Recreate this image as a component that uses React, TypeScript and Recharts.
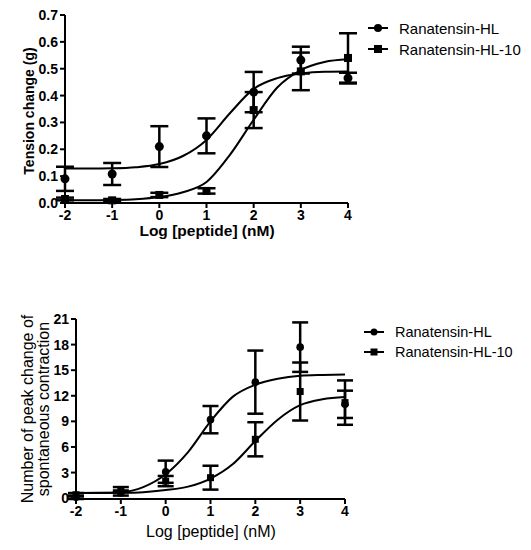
import React from 'react';
import { ComposedChart, Line, Scatter, ErrorBar, XAxis, YAxis } from 'recharts';

// measured points, log dose on x
const doses = [-2, -1, 0, 1, 2, 3, 4];

const tensionHL = [0.09, 0.108, 0.21, 0.25, 0.413, 0.532, 0.465];
const tensionHLErr = [0.045, 0.041, 0.076, 0.065, 0.075, 0.05, 0.02];
const tensionHL10 = [0.015, 0.01, 0.03, 0.045, 0.346, 0.49, 0.54];
const tensionHL10Err = [0.005, 0.005, 0.008, 0.01, 0.067, 0.07, 0.092];

const contractHL = [0.1, 0.6, 3.1, 9.2, 13.6, 17.7, 11.0];
const contractHLErr = [0.2, 0.3, 1.3, 1.6, 3.7, 2.9, 1.6];
const contractHL10 = [0.4, 1.0, 2.0, 2.4, 6.9, 12.5, 11.2];
const contractHL10Err = [0.2, 0.3, 0.6, 1.4, 2.0, 3.4, 2.6];

// fitted curves
const fitX = [-2, -1.5, -1, -0.5, 0, 0.5, 1, 1.5, 2, 2.5, 3, 3.5, 4];
const tensionHLFit = [0.128, 0.128, 0.129, 0.133, 0.145, 0.175, 0.235, 0.335, 0.425, 0.465, 0.482, 0.489, 0.49];
const tensionHL10Fit = [0.01, 0.01, 0.011, 0.014, 0.022, 0.04, 0.078, 0.18, 0.31, 0.43, 0.495, 0.525, 0.535];
const contractHLFit = [0.6, 0.62, 0.7, 1.3, 2.8, 5.4, 9.0, 11.9, 13.3, 14.0, 14.35, 14.45, 14.5];
const contractHL10Fit = [0.6, 0.6, 0.62, 0.7, 0.95, 1.35, 2.3, 4.0, 6.7, 9.2, 10.9, 11.6, 11.85];

const xTicks = [-2, -1, 0, 1, 2, 3, 4];
const tensionTicks = [0, 0.1, 0.2, 0.3, 0.4, 0.5, 0.6, 0.7];
const contractTicks = [0, 3, 6, 9, 12, 15, 18, 21];

const seriesNames = ['Ranatensin-HL', 'Ranatensin-HL-10'];

const FONT = '"Liberation Sans", Arial, sans-serif';

const points = (ys: number[], errs: number[]) => doses.map((x, i) => ({ x, y: ys[i], err: errs[i] }));
const curve = (ys: number[]) => fitX.map((x, i) => ({ x, y: ys[i] }));

const dot = (r: number) => (p: any) => <circle cx={p.cx} cy={p.cy} r={r} fill="#000" />;
const square = (s: number) => (p: any) => <rect x={p.cx - s / 2} y={p.cy - s / 2} width={s} height={s} fill="#000" />;

const makeYTitle = (lines: string[], x: number, cy: number, size: number, weight: string) => () => (
  <text transform={`rotate(-90 ${x} ${cy})`} x={x} y={cy} textAnchor="middle" fontFamily={FONT} fontSize={size} fontWeight={weight} fill="#000">
    {lines.map((l, i) => (
      <tspan key={i} x={x} dy={i === 0 ? 0 : size}>
        {l}
      </tspan>
    ))}
  </text>
);

const makeXTitle = (text: string, cx: number, y: number, size: number, weight: string) => () => (
  <text x={cx} y={y} textAnchor="middle" fontFamily={FONT} fontSize={size} fontWeight={weight} fill="#000">
    {text}
  </text>
);

const LegendBox = ({ left, top, size, gap, dotR, sq }: any) => (
  <div style={{ position: 'absolute', left, top, fontFamily: FONT, fontSize: size, color: '#000' }}>
    {seriesNames.map((name, i) => (
      <div key={name} style={{ display: 'flex', alignItems: 'center', height: gap, whiteSpace: 'nowrap' }}>
        <svg width={22} height={12} style={{ marginRight: 10 }}>
          <line x1={1} y1={6} x2={21} y2={6} stroke="#000" strokeWidth={2} />
          {i === 0 ? <circle cx={11} cy={6} r={dotR} fill="#000" /> : <rect x={11 - sq / 2} y={6 - sq / 2} width={sq} height={sq} fill="#000" />}
        </svg>
        <span>{name}</span>
      </div>
    ))}
  </div>
);

const axisProps = {
  axisLine: { stroke: '#000', strokeWidth: 2 },
  tickLine: { stroke: '#000', strokeWidth: 2 },
  tickSize: 5,
  tick: { fill: '#000', fontSize: 14, fontWeight: 'bold', fontFamily: FONT },
};

const App = () => {
  return (
    <div style={{ position: 'absolute', left: 0, top: 0, width: 531, height: 550, background: '#fff' }}>
      <ComposedChart width={531} height={275} margin={{ top: 15, right: 183, bottom: 0, left: 0 }}>
        <XAxis
          type="number"
          dataKey="x"
          domain={[-2, 4]}
          ticks={xTicks}
          height={72}
          {...axisProps}
          label={{ content: makeXTitle('Log [peptide] (nM)', 207, 236, 15.5, 'bold') }}
        />
        <YAxis
          type="number"
          dataKey="y"
          domain={[0, 0.7]}
          ticks={tensionTicks}
          tickFormatter={(v: number) => v.toFixed(1)}
          width={65}
          {...axisProps}
          label={{ content: makeYTitle(['Tension change (g)'], 34, 111, 14, 'bold') }}
        />
        <Line data={curve(tensionHLFit)} dataKey="y" type="monotone" stroke="#000" strokeWidth={2} dot={false} isAnimationActive={false} />
        <Line data={curve(tensionHL10Fit)} dataKey="y" type="monotone" stroke="#000" strokeWidth={2} dot={false} isAnimationActive={false} />
        <Scatter data={points(tensionHL, tensionHLErr)} shape={dot(4.5)} isAnimationActive={false}>
          <ErrorBar dataKey="err" direction="y" width={9} stroke="#000" strokeWidth={2.5} />
        </Scatter>
        <Scatter data={points(tensionHL10, tensionHL10Err)} shape={square(8)} isAnimationActive={false}>
          <ErrorBar dataKey="err" direction="y" width={9} stroke="#000" strokeWidth={2.5} />
        </Scatter>
      </ComposedChart>
      <ComposedChart width={531} height={275} margin={{ top: 44, right: 186, bottom: 0, left: 0 }}>
        <XAxis
          type="number"
          dataKey="x"
          domain={[-2, 4]}
          ticks={xTicks}
          height={51}
          {...axisProps}
          label={{ content: makeXTitle('Log [peptide] (nM)', 211, 262, 16, 'normal') }}
        />
        <YAxis
          type="number"
          dataKey="y"
          domain={[0, 21]}
          ticks={contractTicks}
          width={76}
          {...axisProps}
          label={{ content: makeYTitle(['Number of peak change of', 'spontaneous contraction'], 33, 134, 16, 'normal') }}
        />
        <Line data={curve(contractHLFit)} dataKey="y" type="monotone" stroke="#000" strokeWidth={2} dot={false} isAnimationActive={false} />
        <Line data={curve(contractHL10Fit)} dataKey="y" type="monotone" stroke="#000" strokeWidth={2} dot={false} isAnimationActive={false} />
        <Scatter data={points(contractHL, contractHLErr)} shape={dot(3.8)} isAnimationActive={false}>
          <ErrorBar dataKey="err" direction="y" width={8} stroke="#000" strokeWidth={2.5} />
        </Scatter>
        <Scatter data={points(contractHL10, contractHL10Err)} shape={square(7)} isAnimationActive={false}>
          <ErrorBar dataKey="err" direction="y" width={8} stroke="#000" strokeWidth={2.5} />
        </Scatter>
      </ComposedChart>
      <LegendBox left={367} top={17.5} size={15} gap={21} dotR={4} sq={8} />
      <LegendBox left={363} top={322} size={14.5} gap={20} dotR={3.5} sq={7} />
    </div>
  );
};

export default App;
